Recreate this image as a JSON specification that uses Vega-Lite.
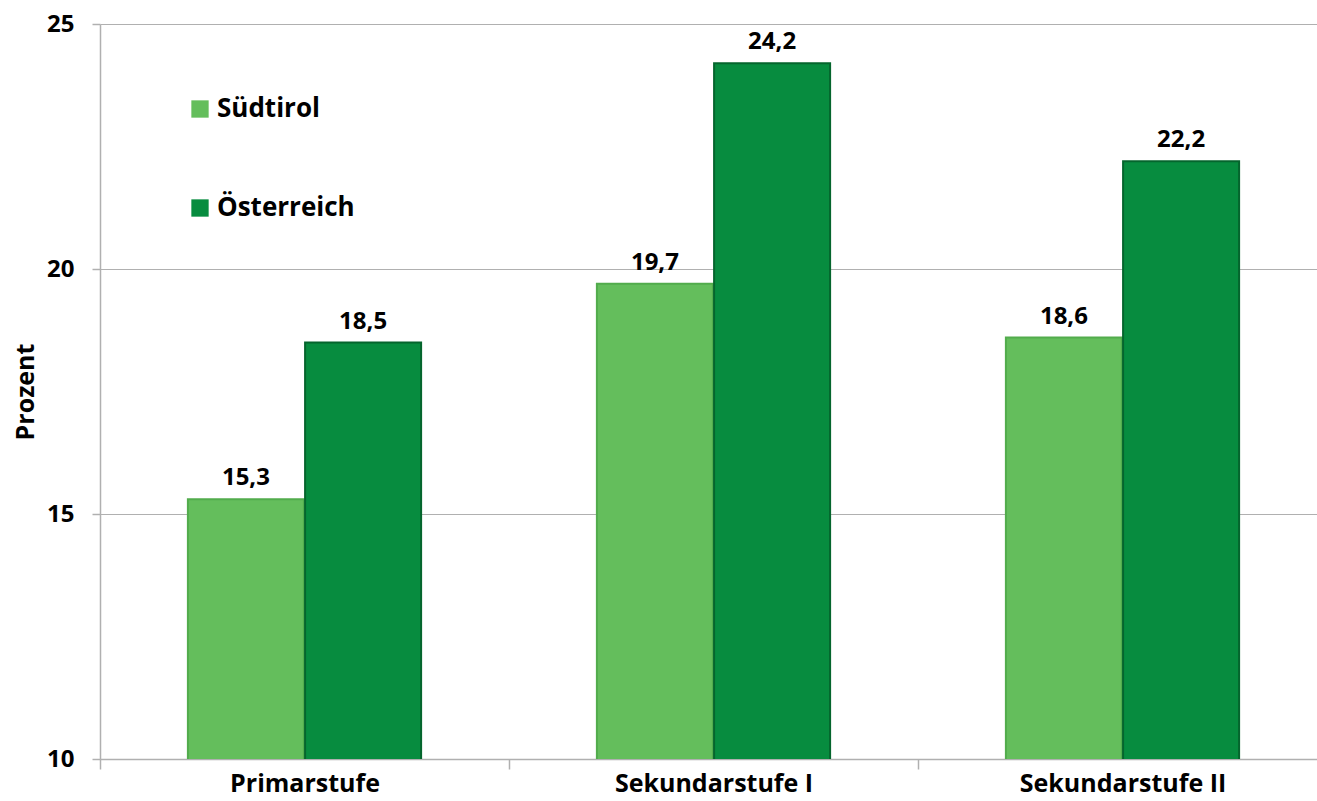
{
  "$schema": "https://vega.github.io/schema/vega-lite/v6.json",
  "width": 1227,
  "height": 735,
  "autosize": {"type": "none"},
  "padding": {"left": 100, "top": 24, "right": -10, "bottom": 42},
  "config": {
    "font": "Open Sans",
    "view": {"stroke": null},
    "locale": {"number": {"decimal": ",", "thousands": ".", "grouping": [3], "currency": ["", " €"]}}
  },
  "data": {
    "values": [
      {"Stufe": "Primarstufe", "Region": "Südtirol", "Wert": 15.3},
      {"Stufe": "Primarstufe", "Region": "Österreich", "Wert": 18.5},
      {"Stufe": "Sekundarstufe I", "Region": "Südtirol", "Wert": 19.7},
      {"Stufe": "Sekundarstufe I", "Region": "Österreich", "Wert": 24.2},
      {"Stufe": "Sekundarstufe II", "Region": "Südtirol", "Wert": 18.6},
      {"Stufe": "Sekundarstufe II", "Region": "Österreich", "Wert": 22.2}
    ]
  },
  "encoding": {
    "x": {
      "field": "Stufe",
      "type": "nominal",
      "sort": ["Primarstufe", "Sekundarstufe I", "Sekundarstufe II"],
      "scale": {"paddingInner": 0, "paddingOuter": 0},
      "axis": {
        "title": null,
        "labelAngle": 0,
        "labelLimit": 0,
        "tickBand": "extent",
        "labelFontSize": 25,
        "labelFontWeight": "bold",
        "labelColor": "#000000",
        "domainColor": "#b0b0b0",
        "domainWidth": 1.5,
        "tickColor": "#b0b0b0",
        "tickWidth": 1.5,
        "tickSize": 10,
        "labelPadding": 2,
        "grid": false
      }
    },
    "xOffset": {
      "field": "Region",
      "sort": ["Südtirol", "Österreich"],
      "scale": {"paddingInner": 0.01, "paddingOuter": 0.75}
    },
    "y": {
      "field": "Wert",
      "type": "quantitative",
      "scale": {"domain": [10, 25], "zero": false, "nice": false},
      "axis": {
        "values": [10, 15, 20, 25],
        "title": "Prozent",
        "titleFontSize": 25,
        "titleFontWeight": "bold",
        "titleColor": "#000000",
        "titlePadding": 8,
        "labelFontSize": 24,
        "labelFontWeight": "bold",
        "labelColor": "#000000",
        "labelPadding": 18,
        "tickSize": 8,
        "tickColor": "#b0b0b0",
        "tickWidth": 1.5,
        "domainColor": "#b0b0b0",
        "domainWidth": 1.5,
        "gridColor": "#b0b0b0",
        "gridWidth": 1.2
      }
    }
  },
  "layer": [
    {
      "mark": {"type": "bar", "strokeWidth": 2, "clip": true},
      "encoding": {
        "color": {
          "field": "Region",
          "type": "nominal",
          "scale": {"domain": ["Südtirol", "Österreich"], "range": ["#64BE5C", "#078C3F"]},
          "legend": {
            "title": null,
            "orient": "none",
            "legendX": 87,
            "legendY": 72,
            "padding": 0,
            "symbolType": "square",
            "symbolSize": 300,
            "symbolStrokeWidth": 0,
            "labelFontSize": 26,
            "labelFontWeight": "bold",
            "labelColor": "#000000",
            "labelOffset": 4,
            "rowPadding": 73
          }
        },
        "stroke": {
          "field": "Region",
          "type": "nominal",
          "scale": {"domain": ["Südtirol", "Österreich"], "range": ["#52AC4C", "#05652D"]},
          "legend": null
        }
      }
    },
    {
      "mark": {"type": "text", "baseline": "bottom", "dy": -9, "fontSize": 24, "fontWeight": "bold", "color": "#000000"},
      "encoding": {
        "text": {"field": "Wert", "type": "quantitative", "format": ".1f"}
      }
    }
  ]
}
